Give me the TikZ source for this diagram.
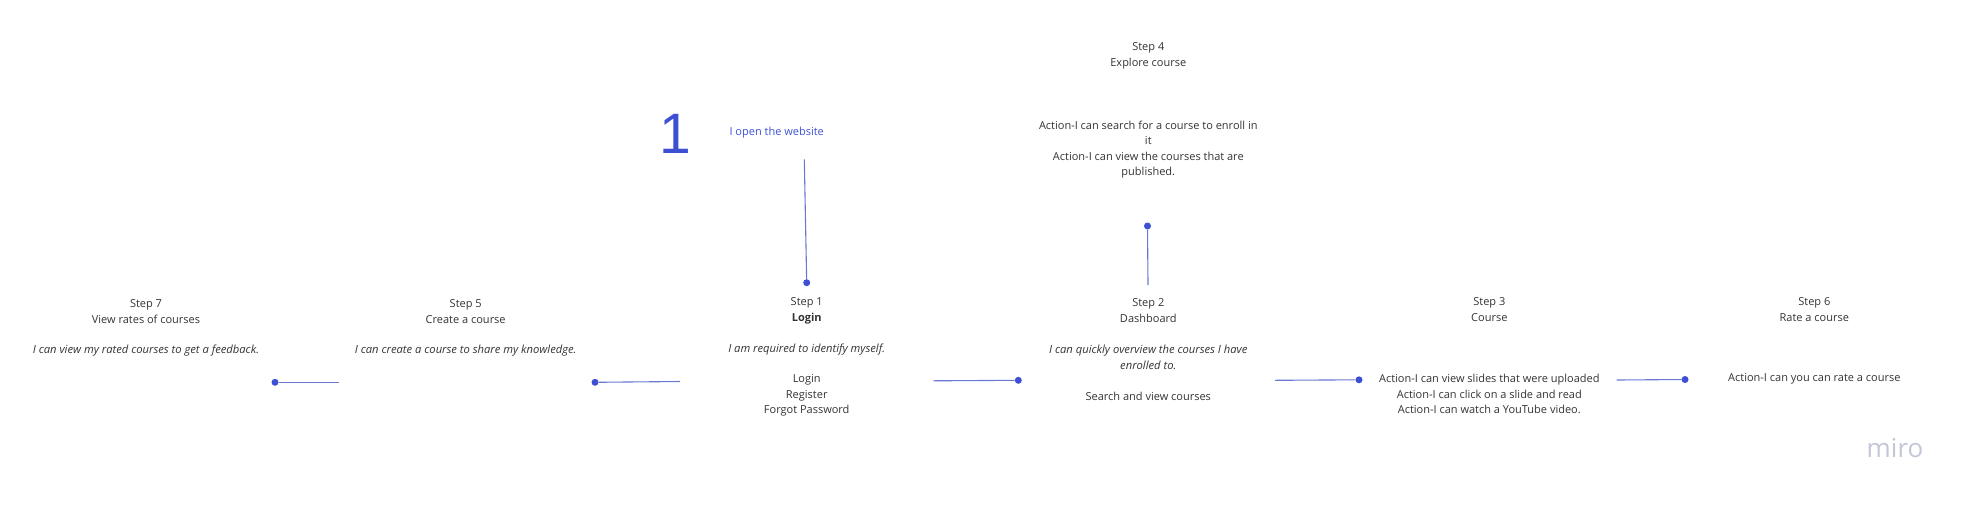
\documentclass[tikz,border=0pt]{standalone}
\usepackage{fontspec}
\setmainfont{Open Sans}
\newfontfamily\digitfont{Liberation Sans}
\definecolor{txtgray}{HTML}{333333}
\definecolor{miroblue}{HTML}{3D50D4}
\definecolor{lineblue}{HTML}{6A78D2}
\definecolor{logogray}{HTML}{C3C6D6}
\tikzset{
  txt/.style={font=\fontsize{11}{16}\selectfont, text=txtgray, align=center, inner sep=0pt},
  itxt/.style={txt, font=\fontsize{11.2}{16}\selectfont\itshape},
  dotnode/.style={circle, fill=miroblue, minimum size=7pt, inner sep=0pt},
  conn/.style={draw=lineblue, line width=1.1pt}
}
\begin{document}
\begin{tikzpicture}[x=1pt,y=-1pt]
\useasboundingbox (0,0) rectangle (1972,507);

% big number and start
\node[inner sep=0pt, text=miroblue, font=\fontsize{57}{57}\selectfont\digitfont] (one) at (675,133.5) {1};
\node[txt, text=miroblue] (open) at (776.7,132.3) {I open the website};
\coordinate (openend) at (804.3,159.3);

% Step 7
\node[txt] (s7t) at (146,312) {Step 7\\View rates of courses};
\node[itxt] (s7d) at (146,351) {I can view my rated courses to get a feedback.};
\node[dotnode] (s7dot) at (275,382.3) {};
\coordinate (s7end) at (339.3,382.3);

% Step 5
\node[txt] (s5t) at (465.7,312) {Step 5\\Create a course};
\node[itxt] (s5d) at (465.7,351) {I can create a course to share my knowledge.};
\node[dotnode] (s5dot) at (595,382.3) {};
\coordinate (s5end) at (680,381.5);

% Step 1
\node[dotnode] (s1dot) at (806.7,282.7) {};
\node[txt] (s1t) at (806.7,310.5) {Step 1\\\textbf{Login}};
\node[itxt] (s1d) at (806.7,349.3) {I am required to identify myself.};
\node[txt, font=\fontsize{11}{15.4}\selectfont] (s1a) at (806.7,395.5) {Login\\Register\\Forgot Password};
\coordinate (s1end) at (933.3,380.8);

% Step 2
\node[dotnode] (s2dot) at (1018.3,380.3) {};
\node[txt] (s2t) at (1148.3,310.5) {Step 2\\Dashboard};
\node[itxt] (s2d) at (1148.3,357.2) {I can quickly overview the courses I have\\enrolled to.};
\node[txt] (s2a) at (1148.3,396) {Search and view courses};
\coordinate (s2up) at (1148,285);
\coordinate (s2end) at (1275,380.3);

% Step 4
\node[dotnode] (s4dot) at (1147.5,226) {};
\node[txt] (s4t) at (1148.3,56) {Step 4\\Explore course};
\node[txt, font=\fontsize{11}{15.3}\selectfont] (s4a) at (1148.3,149.7) {Action-I can search for a course to enroll in\\it\\Action-I can view the courses that are\\published.};

% Step 3
\node[dotnode] (s3dot) at (1359,379.8) {};
\node[txt] (s3t) at (1489.3,309.2) {Step 3\\Course};
\node[txt, font=\fontsize{11}{15.2}\selectfont] (s3a) at (1489.3,394) {Action-I can view slides that were uploaded\\Action-I can click on a slide and read\\Action-I can watch a YouTube video.};
\coordinate (s3end) at (1616.7,380);

% Step 6
\node[dotnode] (s6dot) at (1685,379.5) {};
\node[txt] (s6t) at (1814.3,309.5) {Step 6\\Rate a course};
\node[txt] (s6a) at (1814.3,379) {Action-I can you can rate a course};

% logo
\node[inner sep=0pt, text=logogray, font=\fontsize{26}{26}\selectfont] (logo) at (1895,448) {miro};

% connectors
\draw[conn] (openend) -- (s1dot);
\draw[conn] (s7dot) -- (s7end);
\draw[conn] (s5dot) -- (s5end);
\draw[conn] (s1end) -- (s2dot);
\draw[conn] (s4dot) -- (s2up);
\draw[conn] (s2end) -- (s3dot);
\draw[conn] (s3end) -- (s6dot);
\end{tikzpicture}
\end{document}
